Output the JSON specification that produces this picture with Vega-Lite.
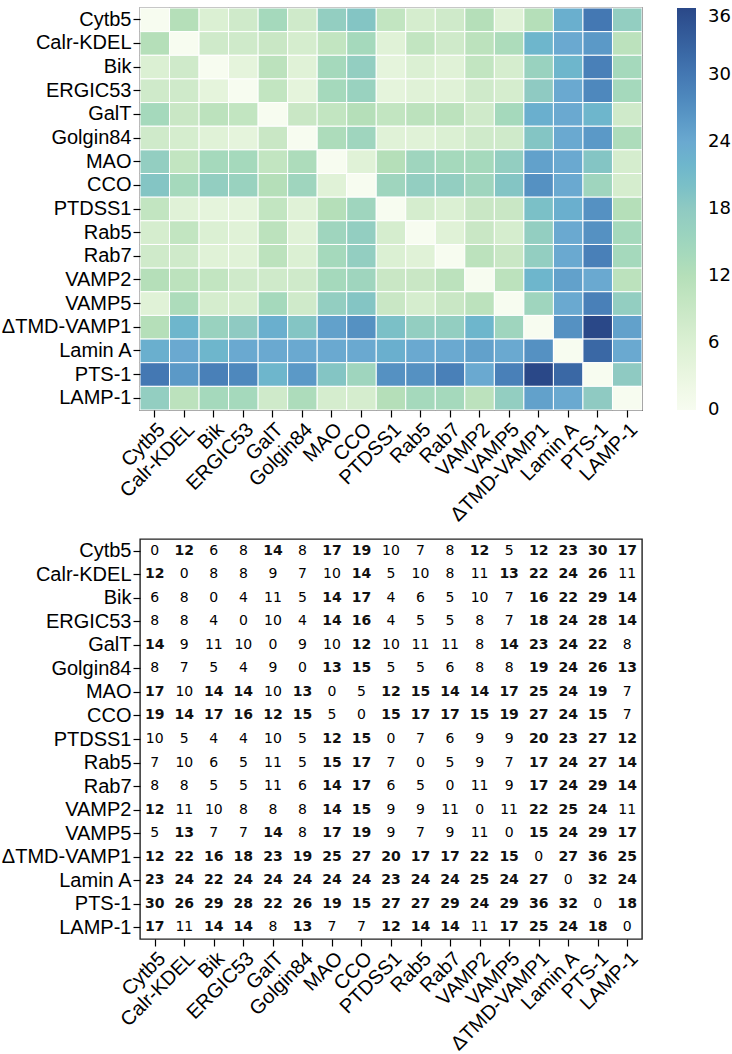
{
  "$schema": "https://vega.github.io/schema/vega-lite/v6.json",
  "padding": {"left": 0, "top": 6, "right": 0, "bottom": 0},
  "config": {
    "view": {"stroke": "#222", "strokeWidth": 1.4},
    "axis": {"labelFont": "Liberation Sans", "labelFontSize": 20, "labelColor": "#000", "tickColor": "#000", "tickSize": 7, "tickWidth": 1.2, "labelPadding": 2, "domain": false, "grid": false, "title": null},
    "legend": {"labelFont": "DejaVu Sans", "labelFontSize": 18, "labelColor": "#000"}
  },
  "data": {"values": [
{"r":"Cytb5","c":"Cytb5","v":0},{"r":"Cytb5","c":"Calr-KDEL","v":12},{"r":"Cytb5","c":"Bik","v":6},{"r":"Cytb5","c":"ERGIC53","v":8},{"r":"Cytb5","c":"GalT","v":14},{"r":"Cytb5","c":"Golgin84","v":8},{"r":"Cytb5","c":"MAO","v":17},{"r":"Cytb5","c":"CCO","v":19},{"r":"Cytb5","c":"PTDSS1","v":10},{"r":"Cytb5","c":"Rab5","v":7},{"r":"Cytb5","c":"Rab7","v":8},{"r":"Cytb5","c":"VAMP2","v":12},{"r":"Cytb5","c":"VAMP5","v":5},{"r":"Cytb5","c":"ΔTMD-VAMP1","v":12},{"r":"Cytb5","c":"Lamin A","v":23},{"r":"Cytb5","c":"PTS-1","v":30},{"r":"Cytb5","c":"LAMP-1","v":17},
{"r":"Calr-KDEL","c":"Cytb5","v":12},{"r":"Calr-KDEL","c":"Calr-KDEL","v":0},{"r":"Calr-KDEL","c":"Bik","v":8},{"r":"Calr-KDEL","c":"ERGIC53","v":8},{"r":"Calr-KDEL","c":"GalT","v":9},{"r":"Calr-KDEL","c":"Golgin84","v":7},{"r":"Calr-KDEL","c":"MAO","v":10},{"r":"Calr-KDEL","c":"CCO","v":14},{"r":"Calr-KDEL","c":"PTDSS1","v":5},{"r":"Calr-KDEL","c":"Rab5","v":10},{"r":"Calr-KDEL","c":"Rab7","v":8},{"r":"Calr-KDEL","c":"VAMP2","v":11},{"r":"Calr-KDEL","c":"VAMP5","v":13},{"r":"Calr-KDEL","c":"ΔTMD-VAMP1","v":22},{"r":"Calr-KDEL","c":"Lamin A","v":24},{"r":"Calr-KDEL","c":"PTS-1","v":26},{"r":"Calr-KDEL","c":"LAMP-1","v":11},
{"r":"Bik","c":"Cytb5","v":6},{"r":"Bik","c":"Calr-KDEL","v":8},{"r":"Bik","c":"Bik","v":0},{"r":"Bik","c":"ERGIC53","v":4},{"r":"Bik","c":"GalT","v":11},{"r":"Bik","c":"Golgin84","v":5},{"r":"Bik","c":"MAO","v":14},{"r":"Bik","c":"CCO","v":17},{"r":"Bik","c":"PTDSS1","v":4},{"r":"Bik","c":"Rab5","v":6},{"r":"Bik","c":"Rab7","v":5},{"r":"Bik","c":"VAMP2","v":10},{"r":"Bik","c":"VAMP5","v":7},{"r":"Bik","c":"ΔTMD-VAMP1","v":16},{"r":"Bik","c":"Lamin A","v":22},{"r":"Bik","c":"PTS-1","v":29},{"r":"Bik","c":"LAMP-1","v":14},
{"r":"ERGIC53","c":"Cytb5","v":8},{"r":"ERGIC53","c":"Calr-KDEL","v":8},{"r":"ERGIC53","c":"Bik","v":4},{"r":"ERGIC53","c":"ERGIC53","v":0},{"r":"ERGIC53","c":"GalT","v":10},{"r":"ERGIC53","c":"Golgin84","v":4},{"r":"ERGIC53","c":"MAO","v":14},{"r":"ERGIC53","c":"CCO","v":16},{"r":"ERGIC53","c":"PTDSS1","v":4},{"r":"ERGIC53","c":"Rab5","v":5},{"r":"ERGIC53","c":"Rab7","v":5},{"r":"ERGIC53","c":"VAMP2","v":8},{"r":"ERGIC53","c":"VAMP5","v":7},{"r":"ERGIC53","c":"ΔTMD-VAMP1","v":18},{"r":"ERGIC53","c":"Lamin A","v":24},{"r":"ERGIC53","c":"PTS-1","v":28},{"r":"ERGIC53","c":"LAMP-1","v":14},
{"r":"GalT","c":"Cytb5","v":14},{"r":"GalT","c":"Calr-KDEL","v":9},{"r":"GalT","c":"Bik","v":11},{"r":"GalT","c":"ERGIC53","v":10},{"r":"GalT","c":"GalT","v":0},{"r":"GalT","c":"Golgin84","v":9},{"r":"GalT","c":"MAO","v":10},{"r":"GalT","c":"CCO","v":12},{"r":"GalT","c":"PTDSS1","v":10},{"r":"GalT","c":"Rab5","v":11},{"r":"GalT","c":"Rab7","v":11},{"r":"GalT","c":"VAMP2","v":8},{"r":"GalT","c":"VAMP5","v":14},{"r":"GalT","c":"ΔTMD-VAMP1","v":23},{"r":"GalT","c":"Lamin A","v":24},{"r":"GalT","c":"PTS-1","v":22},{"r":"GalT","c":"LAMP-1","v":8},
{"r":"Golgin84","c":"Cytb5","v":8},{"r":"Golgin84","c":"Calr-KDEL","v":7},{"r":"Golgin84","c":"Bik","v":5},{"r":"Golgin84","c":"ERGIC53","v":4},{"r":"Golgin84","c":"GalT","v":9},{"r":"Golgin84","c":"Golgin84","v":0},{"r":"Golgin84","c":"MAO","v":13},{"r":"Golgin84","c":"CCO","v":15},{"r":"Golgin84","c":"PTDSS1","v":5},{"r":"Golgin84","c":"Rab5","v":5},{"r":"Golgin84","c":"Rab7","v":6},{"r":"Golgin84","c":"VAMP2","v":8},{"r":"Golgin84","c":"VAMP5","v":8},{"r":"Golgin84","c":"ΔTMD-VAMP1","v":19},{"r":"Golgin84","c":"Lamin A","v":24},{"r":"Golgin84","c":"PTS-1","v":26},{"r":"Golgin84","c":"LAMP-1","v":13},
{"r":"MAO","c":"Cytb5","v":17},{"r":"MAO","c":"Calr-KDEL","v":10},{"r":"MAO","c":"Bik","v":14},{"r":"MAO","c":"ERGIC53","v":14},{"r":"MAO","c":"GalT","v":10},{"r":"MAO","c":"Golgin84","v":13},{"r":"MAO","c":"MAO","v":0},{"r":"MAO","c":"CCO","v":5},{"r":"MAO","c":"PTDSS1","v":12},{"r":"MAO","c":"Rab5","v":15},{"r":"MAO","c":"Rab7","v":14},{"r":"MAO","c":"VAMP2","v":14},{"r":"MAO","c":"VAMP5","v":17},{"r":"MAO","c":"ΔTMD-VAMP1","v":25},{"r":"MAO","c":"Lamin A","v":24},{"r":"MAO","c":"PTS-1","v":19},{"r":"MAO","c":"LAMP-1","v":7},
{"r":"CCO","c":"Cytb5","v":19},{"r":"CCO","c":"Calr-KDEL","v":14},{"r":"CCO","c":"Bik","v":17},{"r":"CCO","c":"ERGIC53","v":16},{"r":"CCO","c":"GalT","v":12},{"r":"CCO","c":"Golgin84","v":15},{"r":"CCO","c":"MAO","v":5},{"r":"CCO","c":"CCO","v":0},{"r":"CCO","c":"PTDSS1","v":15},{"r":"CCO","c":"Rab5","v":17},{"r":"CCO","c":"Rab7","v":17},{"r":"CCO","c":"VAMP2","v":15},{"r":"CCO","c":"VAMP5","v":19},{"r":"CCO","c":"ΔTMD-VAMP1","v":27},{"r":"CCO","c":"Lamin A","v":24},{"r":"CCO","c":"PTS-1","v":15},{"r":"CCO","c":"LAMP-1","v":7},
{"r":"PTDSS1","c":"Cytb5","v":10},{"r":"PTDSS1","c":"Calr-KDEL","v":5},{"r":"PTDSS1","c":"Bik","v":4},{"r":"PTDSS1","c":"ERGIC53","v":4},{"r":"PTDSS1","c":"GalT","v":10},{"r":"PTDSS1","c":"Golgin84","v":5},{"r":"PTDSS1","c":"MAO","v":12},{"r":"PTDSS1","c":"CCO","v":15},{"r":"PTDSS1","c":"PTDSS1","v":0},{"r":"PTDSS1","c":"Rab5","v":7},{"r":"PTDSS1","c":"Rab7","v":6},{"r":"PTDSS1","c":"VAMP2","v":9},{"r":"PTDSS1","c":"VAMP5","v":9},{"r":"PTDSS1","c":"ΔTMD-VAMP1","v":20},{"r":"PTDSS1","c":"Lamin A","v":23},{"r":"PTDSS1","c":"PTS-1","v":27},{"r":"PTDSS1","c":"LAMP-1","v":12},
{"r":"Rab5","c":"Cytb5","v":7},{"r":"Rab5","c":"Calr-KDEL","v":10},{"r":"Rab5","c":"Bik","v":6},{"r":"Rab5","c":"ERGIC53","v":5},{"r":"Rab5","c":"GalT","v":11},{"r":"Rab5","c":"Golgin84","v":5},{"r":"Rab5","c":"MAO","v":15},{"r":"Rab5","c":"CCO","v":17},{"r":"Rab5","c":"PTDSS1","v":7},{"r":"Rab5","c":"Rab5","v":0},{"r":"Rab5","c":"Rab7","v":5},{"r":"Rab5","c":"VAMP2","v":9},{"r":"Rab5","c":"VAMP5","v":7},{"r":"Rab5","c":"ΔTMD-VAMP1","v":17},{"r":"Rab5","c":"Lamin A","v":24},{"r":"Rab5","c":"PTS-1","v":27},{"r":"Rab5","c":"LAMP-1","v":14},
{"r":"Rab7","c":"Cytb5","v":8},{"r":"Rab7","c":"Calr-KDEL","v":8},{"r":"Rab7","c":"Bik","v":5},{"r":"Rab7","c":"ERGIC53","v":5},{"r":"Rab7","c":"GalT","v":11},{"r":"Rab7","c":"Golgin84","v":6},{"r":"Rab7","c":"MAO","v":14},{"r":"Rab7","c":"CCO","v":17},{"r":"Rab7","c":"PTDSS1","v":6},{"r":"Rab7","c":"Rab5","v":5},{"r":"Rab7","c":"Rab7","v":0},{"r":"Rab7","c":"VAMP2","v":11},{"r":"Rab7","c":"VAMP5","v":9},{"r":"Rab7","c":"ΔTMD-VAMP1","v":17},{"r":"Rab7","c":"Lamin A","v":24},{"r":"Rab7","c":"PTS-1","v":29},{"r":"Rab7","c":"LAMP-1","v":14},
{"r":"VAMP2","c":"Cytb5","v":12},{"r":"VAMP2","c":"Calr-KDEL","v":11},{"r":"VAMP2","c":"Bik","v":10},{"r":"VAMP2","c":"ERGIC53","v":8},{"r":"VAMP2","c":"GalT","v":8},{"r":"VAMP2","c":"Golgin84","v":8},{"r":"VAMP2","c":"MAO","v":14},{"r":"VAMP2","c":"CCO","v":15},{"r":"VAMP2","c":"PTDSS1","v":9},{"r":"VAMP2","c":"Rab5","v":9},{"r":"VAMP2","c":"Rab7","v":11},{"r":"VAMP2","c":"VAMP2","v":0},{"r":"VAMP2","c":"VAMP5","v":11},{"r":"VAMP2","c":"ΔTMD-VAMP1","v":22},{"r":"VAMP2","c":"Lamin A","v":25},{"r":"VAMP2","c":"PTS-1","v":24},{"r":"VAMP2","c":"LAMP-1","v":11},
{"r":"VAMP5","c":"Cytb5","v":5},{"r":"VAMP5","c":"Calr-KDEL","v":13},{"r":"VAMP5","c":"Bik","v":7},{"r":"VAMP5","c":"ERGIC53","v":7},{"r":"VAMP5","c":"GalT","v":14},{"r":"VAMP5","c":"Golgin84","v":8},{"r":"VAMP5","c":"MAO","v":17},{"r":"VAMP5","c":"CCO","v":19},{"r":"VAMP5","c":"PTDSS1","v":9},{"r":"VAMP5","c":"Rab5","v":7},{"r":"VAMP5","c":"Rab7","v":9},{"r":"VAMP5","c":"VAMP2","v":11},{"r":"VAMP5","c":"VAMP5","v":0},{"r":"VAMP5","c":"ΔTMD-VAMP1","v":15},{"r":"VAMP5","c":"Lamin A","v":24},{"r":"VAMP5","c":"PTS-1","v":29},{"r":"VAMP5","c":"LAMP-1","v":17},
{"r":"ΔTMD-VAMP1","c":"Cytb5","v":12},{"r":"ΔTMD-VAMP1","c":"Calr-KDEL","v":22},{"r":"ΔTMD-VAMP1","c":"Bik","v":16},{"r":"ΔTMD-VAMP1","c":"ERGIC53","v":18},{"r":"ΔTMD-VAMP1","c":"GalT","v":23},{"r":"ΔTMD-VAMP1","c":"Golgin84","v":19},{"r":"ΔTMD-VAMP1","c":"MAO","v":25},{"r":"ΔTMD-VAMP1","c":"CCO","v":27},{"r":"ΔTMD-VAMP1","c":"PTDSS1","v":20},{"r":"ΔTMD-VAMP1","c":"Rab5","v":17},{"r":"ΔTMD-VAMP1","c":"Rab7","v":17},{"r":"ΔTMD-VAMP1","c":"VAMP2","v":22},{"r":"ΔTMD-VAMP1","c":"VAMP5","v":15},{"r":"ΔTMD-VAMP1","c":"ΔTMD-VAMP1","v":0},{"r":"ΔTMD-VAMP1","c":"Lamin A","v":27},{"r":"ΔTMD-VAMP1","c":"PTS-1","v":36},{"r":"ΔTMD-VAMP1","c":"LAMP-1","v":25},
{"r":"Lamin A","c":"Cytb5","v":23},{"r":"Lamin A","c":"Calr-KDEL","v":24},{"r":"Lamin A","c":"Bik","v":22},{"r":"Lamin A","c":"ERGIC53","v":24},{"r":"Lamin A","c":"GalT","v":24},{"r":"Lamin A","c":"Golgin84","v":24},{"r":"Lamin A","c":"MAO","v":24},{"r":"Lamin A","c":"CCO","v":24},{"r":"Lamin A","c":"PTDSS1","v":23},{"r":"Lamin A","c":"Rab5","v":24},{"r":"Lamin A","c":"Rab7","v":24},{"r":"Lamin A","c":"VAMP2","v":25},{"r":"Lamin A","c":"VAMP5","v":24},{"r":"Lamin A","c":"ΔTMD-VAMP1","v":27},{"r":"Lamin A","c":"Lamin A","v":0},{"r":"Lamin A","c":"PTS-1","v":32},{"r":"Lamin A","c":"LAMP-1","v":24},
{"r":"PTS-1","c":"Cytb5","v":30},{"r":"PTS-1","c":"Calr-KDEL","v":26},{"r":"PTS-1","c":"Bik","v":29},{"r":"PTS-1","c":"ERGIC53","v":28},{"r":"PTS-1","c":"GalT","v":22},{"r":"PTS-1","c":"Golgin84","v":26},{"r":"PTS-1","c":"MAO","v":19},{"r":"PTS-1","c":"CCO","v":15},{"r":"PTS-1","c":"PTDSS1","v":27},{"r":"PTS-1","c":"Rab5","v":27},{"r":"PTS-1","c":"Rab7","v":29},{"r":"PTS-1","c":"VAMP2","v":24},{"r":"PTS-1","c":"VAMP5","v":29},{"r":"PTS-1","c":"ΔTMD-VAMP1","v":36},{"r":"PTS-1","c":"Lamin A","v":32},{"r":"PTS-1","c":"PTS-1","v":0},{"r":"PTS-1","c":"LAMP-1","v":18},
{"r":"LAMP-1","c":"Cytb5","v":17},{"r":"LAMP-1","c":"Calr-KDEL","v":11},{"r":"LAMP-1","c":"Bik","v":14},{"r":"LAMP-1","c":"ERGIC53","v":14},{"r":"LAMP-1","c":"GalT","v":8},{"r":"LAMP-1","c":"Golgin84","v":13},{"r":"LAMP-1","c":"MAO","v":7},{"r":"LAMP-1","c":"CCO","v":7},{"r":"LAMP-1","c":"PTDSS1","v":12},{"r":"LAMP-1","c":"Rab5","v":14},{"r":"LAMP-1","c":"Rab7","v":14},{"r":"LAMP-1","c":"VAMP2","v":11},{"r":"LAMP-1","c":"VAMP5","v":17},{"r":"LAMP-1","c":"ΔTMD-VAMP1","v":25},{"r":"LAMP-1","c":"Lamin A","v":24},{"r":"LAMP-1","c":"PTS-1","v":18},{"r":"LAMP-1","c":"LAMP-1","v":0}
  ]},
  "spacing": 12,
  "vconcat": [
    {
      "width": 502,
      "height": 402,
      "mark": {"type": "rect", "stroke": "#ffffff", "strokeWidth": 1},
      "encoding": {
        "x": {"field": "c", "type": "nominal", "sort": ["Cytb5","Calr-KDEL","Bik","ERGIC53","GalT","Golgin84","MAO","CCO","PTDSS1","Rab5","Rab7","VAMP2","VAMP5","ΔTMD-VAMP1","Lamin A","PTS-1","LAMP-1"], "axis": {"labelAngle": -45}},
        "y": {"field": "r", "type": "nominal", "sort": ["Cytb5","Calr-KDEL","Bik","ERGIC53","GalT","Golgin84","MAO","CCO","PTDSS1","Rab5","Rab7","VAMP2","VAMP5","ΔTMD-VAMP1","Lamin A","PTS-1","LAMP-1"]},
        "color": {
          "field": "v", "type": "quantitative",
          "scale": {"domain": [0, 6, 12, 18, 24, 30, 36], "range": ["#f7fcf0", "#dbf0d3", "#b5dfb9", "#8fcac2", "#6aa9d0", "#4478b3", "#2a4888"]},
          "legend": {
            "title": null, "direction": "vertical", "gradientLength": 402, "gradientThickness": 19, "offset": 33,
            "values": [0, 6, 12, 18, 24, 30, 36], "labelOffset": 12, "gradientStrokeWidth": 0, "labelOverlap": false,
            "encode": {"labels": {"update": {"baseline": {"signal": "datum.value >= 36 ? 'top' : 'middle'"}}}}
          }
        }
      }
    },
    {
      "width": 502,
      "height": 400,
      "encoding": {
        "x": {"field": "c", "type": "nominal", "sort": ["Cytb5","Calr-KDEL","Bik","ERGIC53","GalT","Golgin84","MAO","CCO","PTDSS1","Rab5","Rab7","VAMP2","VAMP5","ΔTMD-VAMP1","Lamin A","PTS-1","LAMP-1"], "axis": {"labelAngle": -45}},
        "y": {"field": "r", "type": "nominal", "sort": ["Cytb5","Calr-KDEL","Bik","ERGIC53","GalT","Golgin84","MAO","CCO","PTDSS1","Rab5","Rab7","VAMP2","VAMP5","ΔTMD-VAMP1","Lamin A","PTS-1","LAMP-1"]},
        "text": {"field": "v", "type": "quantitative"}
      },
      "layer": [
        {"transform": [{"filter": "datum.v >= 12"}], "mark": {"type": "text", "font": "DejaVu Sans", "fontSize": 14, "fontWeight": "bold", "color": "#111"}},
        {"transform": [{"filter": "datum.v < 12"}], "mark": {"type": "text", "font": "DejaVu Sans", "fontSize": 14, "color": "#000"}}
      ]
    }
  ]
}
